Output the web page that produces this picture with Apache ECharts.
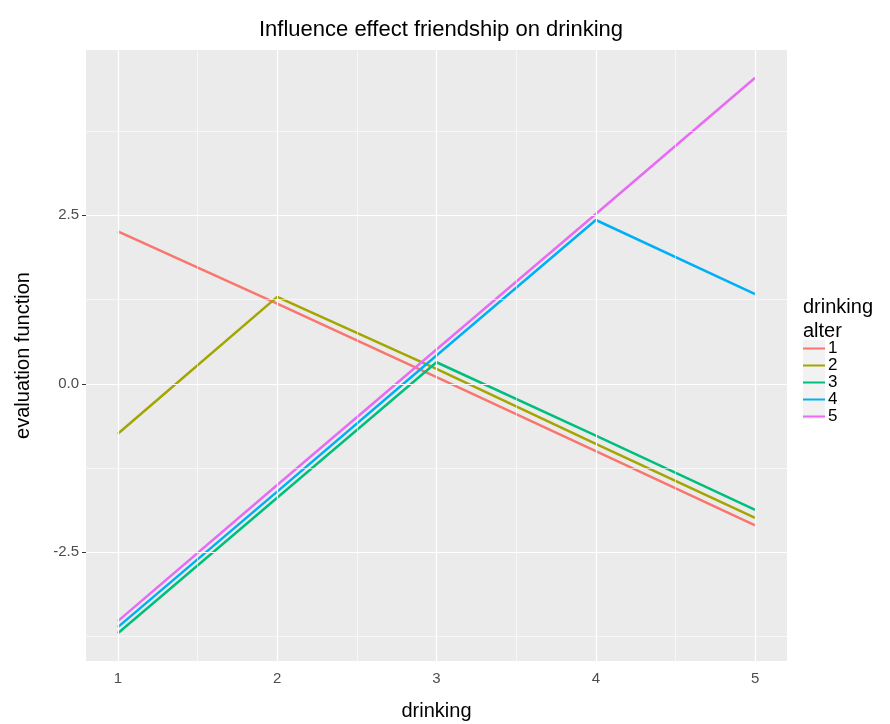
<!DOCTYPE html>
<html>
<head>
<meta charset="utf-8">
<script src="https://cdn.jsdelivr.net/npm/echarts@6/dist/echarts.min.js"></script>
<style>
  html, body { margin: 0; padding: 0; background: #ffffff; }
  #chart { width: 890px; height: 724px; }
</style>
</head>
<body>
<div id="chart"></div>
<script>
// Ego drinking level on the x axis, one line per alter drinking level
const drinking = [1, 2, 3, 4, 5];
const alterLevels = ['1', '2', '3', '4', '5'];
const alter1 = [2.26, 1.19, 0.10, -1.00, -2.10];
const alter2 = [-0.74, 1.29, 0.22, -0.89, -1.99];
const alter3 = [-3.70, -1.69, 0.32, -0.77, -1.87];
const alter4 = [-3.61, -1.60, 0.42, 2.43, 1.33];
const alter5 = [-3.52, -1.50, 0.51, 2.52, 4.54];

const xTicks = [1, 2, 3, 4, 5];
const xMinorGrid = [1.5, 2.5, 3.5, 4.5];
const yTicks = [-2.5, 0, 2.5];
const yMinorGrid = [-3.75, -1.25, 1.25, 3.75];

const palette = ['#F8766D', '#A3A500', '#00BF7D', '#00B0F6', '#E76BF3'];
const allValues = [alter1, alter2, alter3, alter4, alter5];
const font = 'Liberation Sans, Arial, Helvetica, sans-serif';

// panel limits with 5% padding around the data range
const flat = allValues.flat();
const yLo = Math.min(...flat), yHi = Math.max(...flat);
const yPad = (yHi - yLo) * 0.05;
const xPad = (drinking[drinking.length - 1] - drinking[0]) * 0.05;

function gridLine(axis, v, width) {
  const o = { lineStyle: { color: '#ffffff', width: width, type: 'solid' } };
  o[axis] = v;
  return o;
}
const gridLines = []
  .concat(yMinorGrid.map(v => gridLine('yAxis', v, 0.6)))
  .concat(xMinorGrid.map(v => gridLine('xAxis', v, 0.6)))
  .concat(yTicks.map(v => gridLine('yAxis', v, 1.2)))
  .concat(xTicks.map(v => gridLine('xAxis', v, 1.2)));

const lineSeries = allValues.map((vals, i) => ({
  name: alterLevels[i],
  type: 'line',
  data: drinking.map((d, j) => [d, vals[j]]),
  showSymbol: false,
  symbol: 'none',
  lineStyle: { color: palette[i], width: 2.5 },
  itemStyle: { color: palette[i] },
  z: 3,
  animation: false
}));

const chart = echarts.init(document.getElementById('chart'), null, { renderer: 'canvas' });
chart.setOption({
  animation: false,
  backgroundColor: '#ffffff',
  textStyle: { fontFamily: font },
  title: [
    {
      text: 'Influence effect friendship on drinking',
      left: 436, top: 14, textAlign: 'center',
      textStyle: { fontFamily: font, fontSize: 22, fontWeight: 'normal', color: '#000000' }
    },
    {
      text: 'drinking\nalter',
      left: 798, top: 290,
      textStyle: { fontFamily: font, fontSize: 20, fontWeight: 'normal', color: '#000000', lineHeight: 24 }
    }
  ],
  graphic: [
    { type: 'rect', left: 803, top: 340, shape: { width: 22, height: 79 }, style: { fill: '#F2F2F2' }, z: 0, silent: true }
  ],
  legend: {
    orient: 'vertical',
    left: 803, top: 340,
    padding: 0,
    itemWidth: 22, itemHeight: 15.7, itemGap: 0,
    icon: 'path://M0,7 L22,7 L22,9 L0,9 Z',
    data: alterLevels,
    textStyle: { fontFamily: font, fontSize: 17, color: '#000000', padding: [0, 0, 0, -2] },
    z: 5
  },
  grid: {
    left: 86, right: 103, top: 50, bottom: 63,
    outerBoundsMode: 'none',
    containLabel: false,
    show: true, backgroundColor: '#EBEBEB', borderWidth: 0
  },
  xAxis: {
    type: 'value',
    min: drinking[0] - xPad, max: drinking[drinking.length - 1] + xPad,
    name: 'drinking', nameLocation: 'middle', nameGap: 40,
    nameTextStyle: { fontFamily: font, fontSize: 20, color: '#000000' },
    axisLine: { show: false },
    axisTick: { show: true, length: 4, lineStyle: { color: '#333333', width: 1 }, customValues: xTicks },
    axisLabel: { show: true, customValues: xTicks, margin: 10, fontFamily: font, fontSize: 15, color: '#4D4D4D' },
    splitLine: { show: false }
  },
  yAxis: {
    type: 'value',
    min: yLo - yPad, max: yHi + yPad,
    name: 'evaluation function', nameLocation: 'middle', nameGap: 53,
    nameTextStyle: { fontFamily: font, fontSize: 20, color: '#000000' },
    axisLine: { show: false },
    axisTick: { show: true, length: 4, lineStyle: { color: '#333333', width: 1 }, customValues: yTicks },
    axisLabel: { show: true, customValues: yTicks, margin: 7, fontFamily: font, fontSize: 15, color: '#4D4D4D',
      formatter: v => v.toFixed(1) },
    splitLine: { show: false }
  },
  series: [
    {
      name: 'grid',
      type: 'line',
      data: [],
      z: 1,
      silent: true,
      markLine: {
        silent: true, symbol: ['none', 'none'], label: { show: false },
        animation: false, data: gridLines
      }
    }
  ].concat(lineSeries)
});
</script>
</body>
</html>
